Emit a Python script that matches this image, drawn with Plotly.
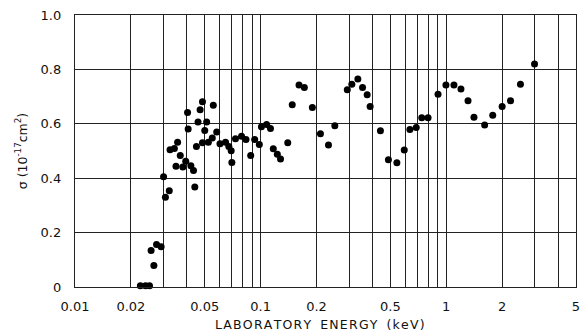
import plotly.graph_objects as go

energy_kev = [0.0225, 0.0240, 0.0252, 0.0257, 0.0266, 0.0275, 0.0291, 0.0300, 0.0307, 0.0322,
              0.0325, 0.0343, 0.0350, 0.0357, 0.0369, 0.0381, 0.0395, 0.0404, 0.0407, 0.0421,
              0.0435, 0.0442, 0.0451, 0.0460, 0.0472, 0.0486, 0.0486, 0.0500, 0.0512, 0.0523,
              0.0549, 0.0556, 0.0580, 0.0604, 0.0647, 0.0674, 0.0694, 0.0700, 0.0732, 0.0789,
              0.0834, 0.0884, 0.0929, 0.0984, 0.101, 0.1077, 0.113, 0.117, 0.123, 0.128,
              0.140, 0.148, 0.161, 0.172, 0.190, 0.210, 0.232, 0.251, 0.293, 0.310,
              0.334, 0.354, 0.375, 0.389, 0.442, 0.488, 0.542, 0.594, 0.637, 0.689,
              0.738, 0.798, 0.903, 0.996, 1.10, 1.20, 1.31, 1.41, 1.61, 1.78,
              2.00, 2.22, 2.51, 2.99]
sigma = [0.005, 0.005, 0.005, 0.134, 0.079, 0.156, 0.148, 0.405, 0.330, 0.354,
         0.505, 0.509, 0.444, 0.532, 0.483, 0.441, 0.462, 0.642, 0.581, 0.446,
         0.428, 0.368, 0.517, 0.607, 0.652, 0.681, 0.530, 0.575, 0.607, 0.532,
         0.548, 0.668, 0.570, 0.527, 0.532, 0.517, 0.501, 0.458, 0.545, 0.554,
         0.542, 0.483, 0.542, 0.524, 0.589, 0.597, 0.583, 0.508, 0.488, 0.471,
         0.530, 0.670, 0.743, 0.733, 0.660, 0.563, 0.522, 0.593, 0.725, 0.745,
         0.765, 0.733, 0.707, 0.664, 0.574, 0.468, 0.457, 0.504, 0.579, 0.586,
         0.622, 0.622, 0.709, 0.743, 0.743, 0.728, 0.685, 0.624, 0.596, 0.631,
         0.664, 0.685, 0.745, 0.820]

x_tick_vals = [0.01, 0.02, 0.05, 0.1, 0.2, 0.5, 1, 2, 5]
x_tick_text = ["0.01", "0.02", "0.05", "0.1", "0.2", "0.5", "1", "2", "5"]
x_grid_vals = [0.03, 0.04, 0.06, 0.07, 0.08, 0.09, 0.3, 0.4, 0.6, 0.7, 0.8, 0.9, 3, 4]
y_tick_vals = [0, 0.2, 0.4, 0.6, 0.8, 1.0]
y_tick_text = ["0", "0.2", "0.4", "0.6", "0.8", "1.0"]
x_title = "LABORATORY ENERGY (keV)"

font = dict(family="DejaVu Sans", size=13, color="#111")
title_font = dict(family="DejaVu Sans", size=12.5, color="#111")
HAIR = "\u200a"
spaced_title = HAIR.join(x_title).replace(" ", "\u00a0\u2009")

fig = go.Figure()
fig.add_trace(go.Scatter(
    x=energy_kev, y=sigma, mode="markers",
    marker=dict(color="black", size=7, line=dict(width=0)),
    showlegend=False, cliponaxis=False,
))

fig.update_layout(
    width=580, height=331,
    margin=dict(l=75, r=0, t=15, b=44),
    paper_bgcolor="white", plot_bgcolor="white",
    font=font,
    xaxis=dict(
        type="log", range=[-2, 0.69897],
        tickmode="array", tickvals=x_tick_vals, ticktext=x_tick_text,
        showgrid=True, gridcolor="#222", gridwidth=1.1,
        ticks="", ticklabelstandoff=7, ticklabeloverflow="allow",
        showline=True, linecolor="#222", linewidth=1.3, mirror=True,
        minor=dict(tickmode="array", tickvals=x_grid_vals, showgrid=True,
                   gridcolor="#222", gridwidth=1.1, ticks=""),
        zeroline=False,
    ),
    yaxis=dict(
        range=[0, 1.0],
        tickmode="array", tickvals=y_tick_vals, ticktext=y_tick_text,
        showgrid=True, gridcolor="#222", gridwidth=1.1,
        ticks="", ticklabelstandoff=10,
        showline=True, linecolor="#222", linewidth=1.3, mirror=True,
        zeroline=False,
        title=dict(text="σ (10<sup>-17</sup>cm<sup>2</sup>)", font=title_font, standoff=10),
    ),
    annotations=[dict(
        text=spaced_title, xref="paper", yref="paper",
        x=(322 - 75) / 505, y=(287 - 324) / 272,
        xanchor="center", yanchor="middle", showarrow=False, font=title_font,
    )],
)

fig.write_html("out.html")
